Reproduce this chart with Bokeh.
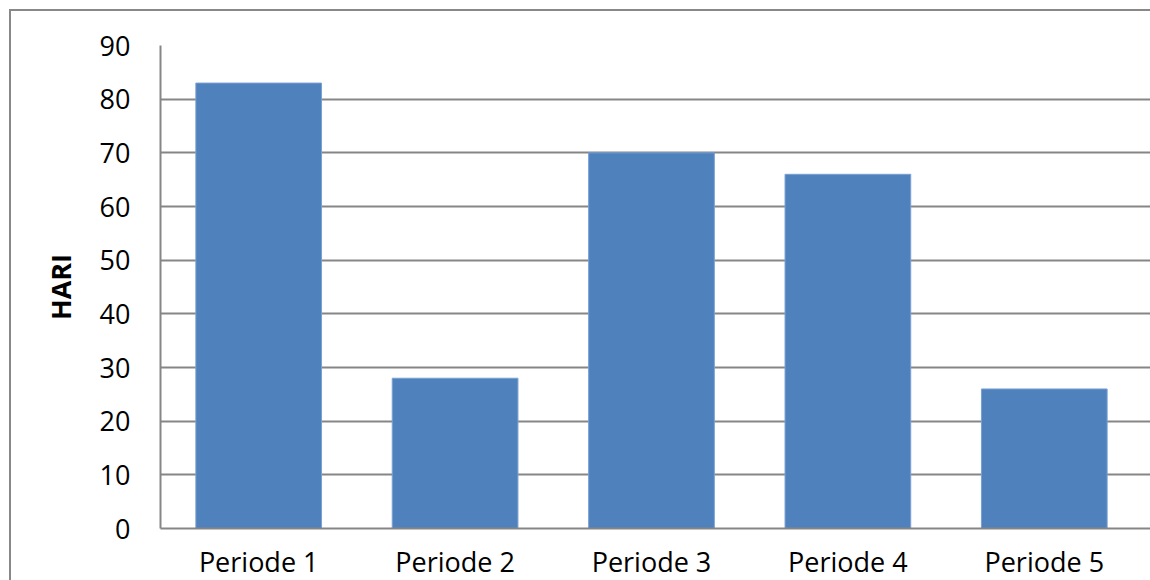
from bokeh.plotting import figure
from bokeh.models import Range1d, FixedTicker, ColumnDataSource
from bokeh.embed import file_html
from bokeh.resources import INLINE

categories = ["Periode 1", "Periode 2", "Periode 3", "Periode 4", "Periode 5"]
values = [83, 28, 70, 66, 26]
y_ticks = [0, 10, 20, 30, 40, 50, 60, 70, 80, 90]
y_label = "HARI"

xpos = [i + 0.5 for i in range(len(categories))]
src = ColumnDataSource(dict(x=xpos, top=values, cat=categories))

p = figure(width=1141, height=571, x_range=Range1d(0, 5.051), y_range=Range1d(0, 90),
           output_backend="svg", toolbar_location=None,
           min_border_left=149, min_border_right=0, min_border_top=34, min_border_bottom=50)
p.margin = (9, 0, 0, 9)
p.styles = {"border-left": "2px solid #888888", "border-top": "2px solid #888888"}
p.outline_line_color = None
p.background_fill_color = "white"
p.border_fill_color = "white"

p.vbar(x="x", top="top", width=0.64, bottom=0, source=src,
       fill_color="#4F81BD", line_color="#7aa0d2", line_width=1)

p.xgrid.grid_line_color = None
p.ygrid.grid_line_color = "#868686"
p.ygrid.grid_line_width = 2
p.ygrid.ticker = FixedTicker(ticks=y_ticks)

p.yaxis.ticker = FixedTicker(ticks=y_ticks)
p.xaxis.ticker = FixedTicker(ticks=xpos)
p.xaxis.major_label_overrides = {x: c for x, c in zip(xpos, categories)}

for ax in (p.xaxis, p.yaxis):
    ax.axis_line_color = "#868686"
    ax.axis_line_width = 2
    ax.major_tick_line_color = None
    ax.minor_tick_line_color = None
    ax.major_tick_out = 0
    ax.major_tick_in = 0
    ax.major_label_text_font = "Open Sans"
    ax.major_label_text_font_size = "27px"
    ax.major_label_text_color = "black"

p.yaxis.major_label_standoff = 30
p.xaxis.major_label_standoff = 14
p.yaxis.axis_label = y_label
p.yaxis.axis_label_text_font = "Open Sans"
p.yaxis.axis_label_text_font_style = "bold"
p.yaxis.axis_label_text_font_size = "27px"
p.yaxis.axis_label_text_color = "black"
p.yaxis.axis_label_standoff = 18

open("out.html", "w").write(file_html(p, INLINE))
